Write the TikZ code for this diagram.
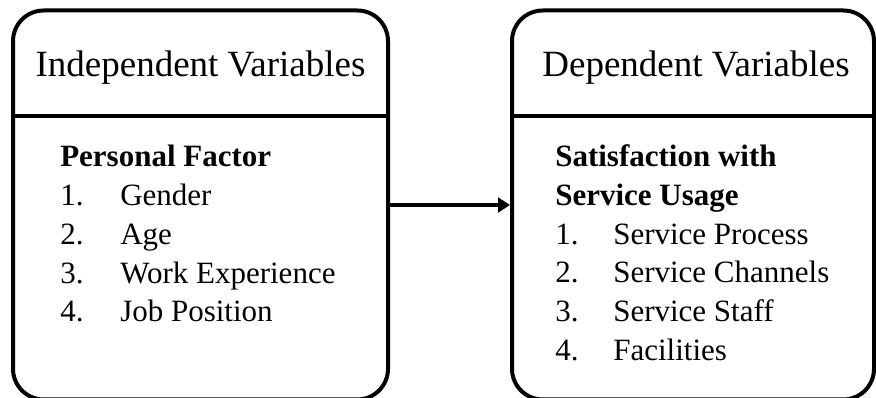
\documentclass[tikz,border=0pt]{standalone}
\usepackage{fontspec}
\setmainfont{Liberation Serif}
\usetikzlibrary{arrows.meta}

\begin{document}
\begin{tikzpicture}[x=0.75pt, y=-0.75pt]
    % styles
    \tikzset{
        varbox/.style={draw=black, line width=3pt, rounded corners=23pt, inner sep=0pt},
        sepline/.style={line width=3pt, black},
        flowarrow/.style={line width=2.6pt, black, -{Triangle[length=9pt, width=11pt]}},
        headtext/.style={anchor=base, inner sep=0pt, font=\fontsize{27.75pt}{33pt}\selectfont},
        listtext/.style={anchor=base west, inner sep=0pt, font=\fontsize{23.25pt}{29pt}\selectfont},
        listhead/.style={listtext, font=\fontsize{23.25pt}{29pt}\selectfont\bfseries}
    }
    \useasboundingbox (0,0) rectangle (876,398);

    % the two boxes (bottom edge runs off the page)
    \node[varbox, minimum width=281.25pt, minimum height=291.75pt] (ivbox) at (200.5,205) {};
    \node[varbox, minimum width=271.5pt, minimum height=291.75pt] (dvbox) at (693,205) {};

    % header separators
    \draw[sepline] (ivbox.west |- 0,116) -- (ivbox.east |- 0,116);
    \draw[sepline] (dvbox.west |- 0,116) -- (dvbox.east |- 0,116);

    % headers
    \node[headtext] (ivhead) at (200.5,77) {Independent Variables};
    \node[headtext] (dvhead) at (696,77) {Dependent Variables};

    % left list
    \node[listhead] (pfactor) at (60,167) {Personal Factor};
    \foreach \txt [count=\k] in {Gender, Age, Work Experience, Job Position} {
        \node[listtext] (ivnum\k) at (60,{167+38.7*\k}) {\k.};
        \node[listtext] (ivitem\k) at (120,{167+38.7*\k}) {\txt};
    }

    % right list
    \node[listhead] (satis) at (555,167) {Satisfaction with};
    \node[listhead] (usage) at (555,205.5) {Service Usage};
    \foreach \txt [count=\k] in {Service Process, Service Channels, Service Staff, Facilities} {
        \node[listtext] (dvnum\k) at (555,{205.5+38.7*\k}) {\k.};
        \node[listtext] (dvitem\k) at (613,{205.5+38.7*\k}) {\txt};
    }

    % link
    \draw[flowarrow] (ivbox.east) -- (dvbox.west);

\end{tikzpicture}
\end{document}
